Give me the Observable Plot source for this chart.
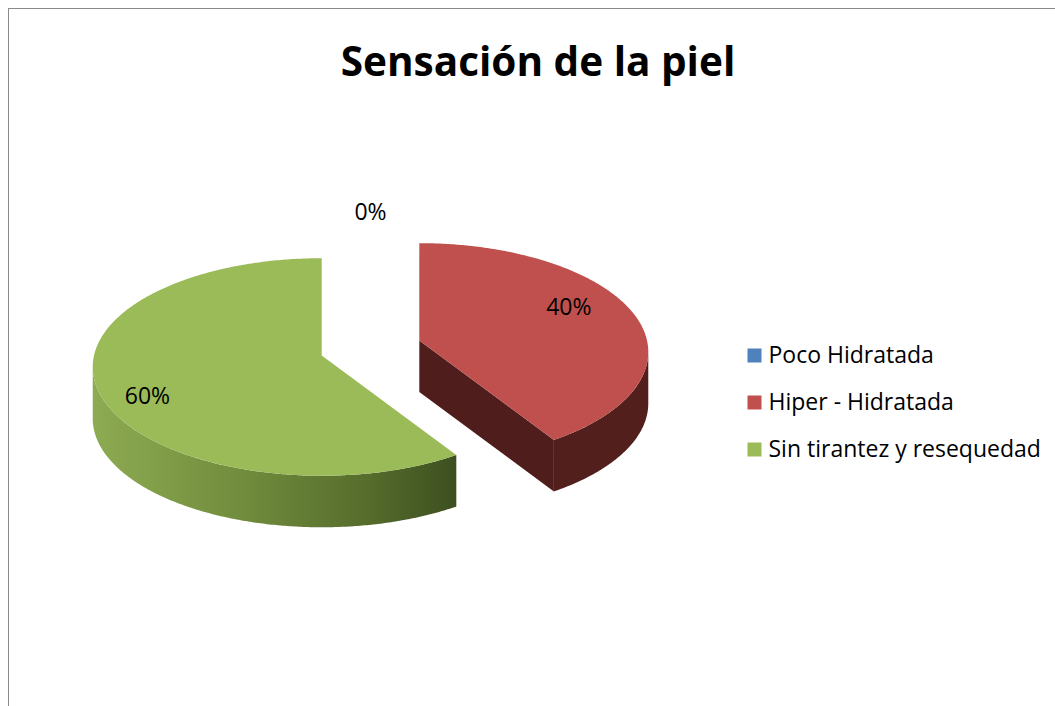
<!DOCTYPE html>
<html>
<head>
<meta charset="utf-8">
<script src="https://cdn.jsdelivr.net/npm/d3@7"></script>
<script src="https://cdn.jsdelivr.net/npm/@observablehq/plot@0.6"></script>
<style>
  html, body { margin: 0; padding: 0; background: #fff; }
  body { width: 1055px; height: 706px; position: relative; overflow: hidden; font-family: "Open Sans", "Noto Sans", sans-serif; }
  #frame { position: absolute; left: 8px; top: 8px; width: 1200px; height: 800px; border-left: 1.5px solid #8a8a8a; border-top: 1.5px solid #8a8a8a; }
  #title { position: absolute; left: 0; top: 41px; width: 1076px; text-align: center; font-weight: 700; font-size: 40.5px; line-height: 40px; color: #000; }
  #pie { position: absolute; left: 0; top: 110px; }
  #legend { position: absolute; left: 740px; top: 330px; }
</style>
</head>
<body>
<div id="frame"></div>
<div id="title">Sensación de la piel</div>
<div id="pie"></div>
<div id="legend"></div>
<script>
// ---- data ----
const categories = ["Poco Hidratada", "Hiper - Hidratada", "Sin tirantez y resequedad"];
const values = [0, 40, 60];
const labels = ["0%", "40%", "60%"];
const topColors = ["#4f81bd", "#c0504d", "#9bbb59"];
const wallColors = ["#2c4a6e", "#521f1d", "url(#greenWall)"];
const cutColors = ["#2c4a6e", "#4f1d1c", "#4a5f27"];

// ---- geometry settings (unit pie) ----
const W = 1055, H = 596;
const PX = 229;             // px per unit radius
const CX = 370, CY = 237.5; // pie centre inside the svg
const TILT = 0.475, SHIFT = 0.05, DEPTH = 0.225, EXPLODE = 0.224;
const total = d3.sum(values);

let acc = 0;
const slices = values.map((v, i) => {
  const a0 = acc / total * 2 * Math.PI; acc += v;
  const a1 = acc / total * 2 * Math.PI;
  const mid = (a0 + a1) / 2;
  return {i, v, a0, a1, mid,
    ox: EXPLODE * Math.sin(mid), oy: -EXPLODE * Math.cos(mid) * TILT};
});
// apex of a slice (r = 0) sits slightly above the rim ellipse centre (perspective)
const P = (s, a, r, dz = 0) => ({x: s.ox + r * Math.sin(a), y: s.oy + (r > 0 ? SHIFT : 0) - r * Math.cos(a) * TILT + dz});
const arc = (s, lo, hi, dz) => {
  const n = Math.max(2, Math.ceil((hi - lo) / 0.01));
  return d3.range(n + 1).map(k => P(s, lo + (hi - lo) * k / n, 1, dz));
};

const walls = [], tops = [];
for (const s of slices) {
  if (s.v === 0) continue;
  const lo = Math.max(s.a0, Math.PI / 2), hi = Math.min(s.a1, 3 * Math.PI / 2);
  if (hi > lo) walls.push({pts: [...arc(s, lo, hi, 0), ...arc(s, lo, hi, DEPTH).reverse()], fill: wallColors[s.i]});
  if (Math.sin(s.a1) > 1e-6) walls.push({pts: [P(s, 0, 0), P(s, s.a1, 1), P(s, s.a1, 1, DEPTH), P(s, 0, 0, DEPTH)], fill: cutColors[s.i]});
  if (Math.sin(s.a0) < -1e-6) walls.push({pts: [P(s, 0, 0), P(s, s.a0, 1), P(s, s.a0, 1, DEPTH), P(s, 0, 0, DEPTH)], fill: cutColors[s.i]});
  tops.push({pts: [P(s, 0, 0), ...arc(s, s.a0, s.a1, 0)], fill: topColors[s.i]});
}

// best-fit style label placement
const labelPos = slices.map(s => {
  const a = s.mid + (s.v === 0 ? 0 : (s.v < 50 ? -14 : -2)) * Math.PI / 180;
  const r = s.v === 0 ? 1.126 : (s.v < 50 ? 0.77 : 0.81);
  return {...P(s, a, r), text: labels[s.i]};
});

const polyMark = p => Plot.line(p.pts, {x: "x", y: "y", fill: p.fill, stroke: "none", curve: "linear-closed"});

const pie = Plot.plot({
  width: W, height: H, margin: 0,
  x: {domain: [-CX / PX, (W - CX) / PX], range: [0, W], axis: null},
  y: {domain: [-CY / PX, (H - CY) / PX], range: [0, H], axis: null},
  style: {fontFamily: "'Open Sans', 'Noto Sans', sans-serif", background: "transparent"},
  marks: [
    ...walls.map(polyMark),
    ...tops.map(polyMark),
    Plot.text(labelPos, {x: "x", y: "y", text: "text", fontSize: 23, fill: "#000"})
  ]
});
// gradient for the green outer wall
const ns = "http://www.w3.org/2000/svg";
const defs = document.createElementNS(ns, "defs");
defs.innerHTML = `<linearGradient id="greenWall" x1="0" x2="1" y1="0" y2="0">
  <stop offset="0" stop-color="#8dab52"/>
  <stop offset="0.4" stop-color="#728d3d"/>
  <stop offset="0.75" stop-color="#566d2c"/>
  <stop offset="1" stop-color="#3d4f20"/></linearGradient>`;
pie.insertBefore(defs, pie.firstChild);
document.getElementById("pie").append(pie);

const legend = Plot.plot({
  width: 315, height: 145, margin: 0,
  y: {type: "point", domain: categories, range: [24.5, 120], padding: 0, axis: null},
  color: {type: "identity"},
  style: {fontFamily: "'Open Sans', 'Noto Sans', sans-serif", background: "transparent"},
  marks: [
    Plot.dot(categories, {y: d => d, frameAnchor: "left", dx: 14, symbol: "square", r: 7.9, fill: (d, i) => topColors[i], stroke: "none"}),
    Plot.text(categories, {y: d => d, frameAnchor: "left", dx: 28, text: d => d, textAnchor: "start", fontSize: 23, fill: "#000"})
  ]
});
document.getElementById("legend").append(legend);
</script>
</body>
</html>
